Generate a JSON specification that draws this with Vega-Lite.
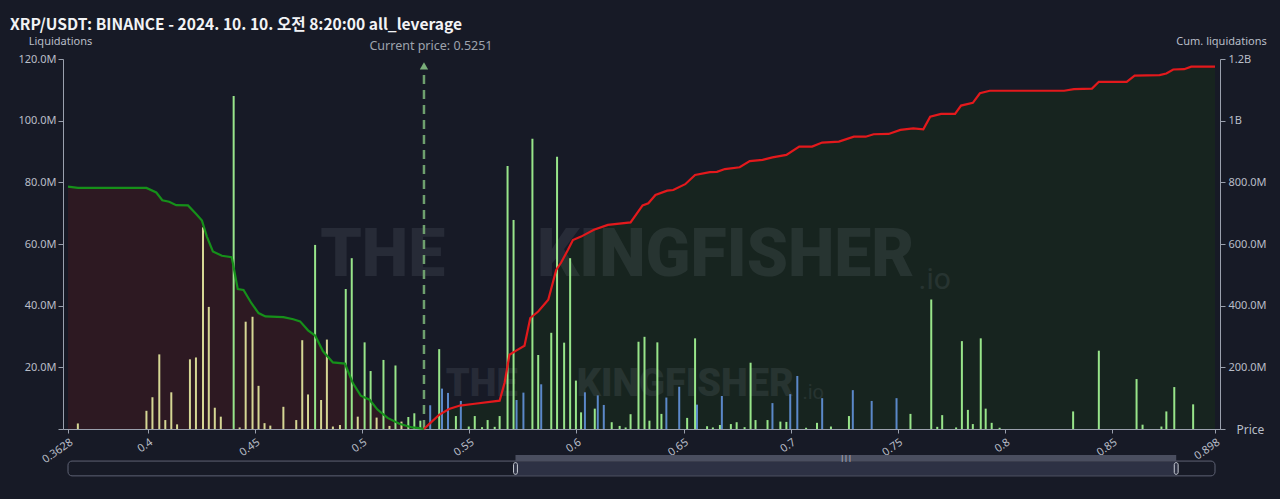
{
  "$schema": "https://vega.github.io/schema/vega-lite/v6.json",
  "width": 1157,
  "height": 370,
  "autosize": {"type": "none"},
  "padding": {"left": 63, "top": 59, "right": 60, "bottom": 70},
  "background": "#171a26",
  "config": {
    "view": {"stroke": null},
    "font": "Noto Sans",
    "axis": {"grid": false, "domainColor": "#9aa0ad", "tickColor": "#9aa0ad", "labelColor": "#b9bec8", "titleColor": "#b9bec8", "labelFontSize": 11, "titleFontSize": 11, "titleFontWeight": "normal", "labelFont": "Noto Sans", "titleFont": "Noto Sans"}
  },
  "title": {
    "text": "XRP/USDT: BINANCE - 2024. 10. 10. 오전 8:20:00 all_leverage",
    "anchor": "start",
    "frame": "group",
    "dx": -53,
    "dy": 13,
    "font": "Noto Sans CJK KR",
    "fontSize": 15.6,
    "fontWeight": "bold",
    "color": "#f2f3f5",
    "offset": 14
  },
  "datasets": {
    "one": [{}],
    "bars": [
      {"p": 0.3674, "v": 1.8, "t": "Y"}, {"p": 0.3994, "v": 5.9, "t": "Y"}, {"p": 0.4022, "v": 10.3, "t": "Y"}, {"p": 0.4054, "v": 24.2, "t": "Y"},
      {"p": 0.4082, "v": 2.9, "t": "Y"}, {"p": 0.4110, "v": 11.9, "t": "Y"}, {"p": 0.4137, "v": 1.5, "t": "Y"}, {"p": 0.4197, "v": 22.6, "t": "Y"},
      {"p": 0.4225, "v": 23.2, "t": "Y"}, {"p": 0.4258, "v": 65.4, "t": "Y"}, {"p": 0.4285, "v": 39.6, "t": "Y"}, {"p": 0.4313, "v": 6.9, "t": "Y"},
      {"p": 0.4341, "v": 4.0, "t": "Y"}, {"p": 0.4401, "v": 108, "t": "G"}, {"p": 0.4429, "v": 0.5, "t": "Y"}, {"p": 0.4457, "v": 34.8, "t": "Y"},
      {"p": 0.4489, "v": 36.4, "t": "Y"}, {"p": 0.4517, "v": 14.0, "t": "Y"}, {"p": 0.4545, "v": 1.9, "t": "Y"}, {"p": 0.4572, "v": 1.1, "t": "Y"},
      {"p": 0.4633, "v": 7.2, "t": "Y"}, {"p": 0.4693, "v": 2.9, "t": "Y"}, {"p": 0.4721, "v": 28.8, "t": "Y"}, {"p": 0.4748, "v": 11.2, "t": "Y"},
      {"p": 0.4781, "v": 59.7, "t": "G"}, {"p": 0.4809, "v": 9.4, "t": "Y"}, {"p": 0.4836, "v": 29.0, "t": "Y"}, {"p": 0.4864, "v": 0.8, "t": "Y"},
      {"p": 0.4897, "v": 1.3, "t": "Y"}, {"p": 0.4924, "v": 45.4, "t": "G"}, {"p": 0.4952, "v": 55.4, "t": "G"}, {"p": 0.4980, "v": 4.0, "t": "Y"},
      {"p": 0.5012, "v": 28.1, "t": "G"}, {"p": 0.5040, "v": 18.8, "t": "G"}, {"p": 0.5068, "v": 3.7, "t": "Y"}, {"p": 0.5100, "v": 22.4, "t": "G"},
      {"p": 0.5128, "v": 1.0, "t": "Y"}, {"p": 0.5156, "v": 20.6, "t": "G"}, {"p": 0.5184, "v": 2.4, "t": "Y"}, {"p": 0.5216, "v": 3.9, "t": "G"},
      {"p": 0.5244, "v": 5.1, "t": "G"}, {"p": 0.5272, "v": 2.7, "t": "G"},
      {"p": 0.5318, "v": 7.7, "t": "B"}, {"p": 0.5360, "v": 25.9, "t": "G"}, {"p": 0.5373, "v": 13.1, "t": "B"}, {"p": 0.5401, "v": 11.7, "t": "B"},
      {"p": 0.5438, "v": 4.2, "t": "G"}, {"p": 0.5461, "v": 9.1, "t": "B"}, {"p": 0.5498, "v": 0.8, "t": "G"}, {"p": 0.5526, "v": 4.2, "t": "G"},
      {"p": 0.5560, "v": 0.6, "t": "G"}, {"p": 0.5586, "v": 2.9, "t": "G"}, {"p": 0.5619, "v": 0.7, "t": "G"}, {"p": 0.5642, "v": 4.2, "t": "G"},
      {"p": 0.5679, "v": 85.3, "t": "G"}, {"p": 0.5707, "v": 67.8, "t": "G"}, {"p": 0.5721, "v": 9.4, "t": "B"}, {"p": 0.5753, "v": 11.8, "t": "B"},
      {"p": 0.5795, "v": 94.1, "t": "G"}, {"p": 0.5822, "v": 24.0, "t": "G"}, {"p": 0.5836, "v": 14.5, "t": "B"}, {"p": 0.5883, "v": 31.2, "t": "G"},
      {"p": 0.5910, "v": 88.3, "t": "G"}, {"p": 0.5943, "v": 28.0, "t": "G"}, {"p": 0.5971, "v": 55.4, "t": "G"}, {"p": 0.5998, "v": 15.7, "t": "G"},
      {"p": 0.6022, "v": 5.4, "t": "G"}, {"p": 0.6040, "v": 11.9, "t": "B"}, {"p": 0.6086, "v": 6.6, "t": "G"}, {"p": 0.6100, "v": 10.9, "t": "B"},
      {"p": 0.6128, "v": 7.8, "t": "B"}, {"p": 0.6165, "v": 2.2, "t": "G"}, {"p": 0.6202, "v": 1.0, "t": "G"}, {"p": 0.6230, "v": 0.5, "t": "G"},
      {"p": 0.6253, "v": 4.8, "t": "G"}, {"p": 0.6290, "v": 28.3, "t": "G"}, {"p": 0.6318, "v": 29.9, "t": "G"}, {"p": 0.6341, "v": 2.7, "t": "G"},
      {"p": 0.6378, "v": 28.1, "t": "G"}, {"p": 0.6397, "v": 4.9, "t": "G"}, {"p": 0.6420, "v": 10.2, "t": "B"}, {"p": 0.6480, "v": 13.7, "t": "B"},
      {"p": 0.6517, "v": 3.6, "t": "G"}, {"p": 0.6554, "v": 29.4, "t": "G"}, {"p": 0.6563, "v": 7.9, "t": "B"}, {"p": 0.6610, "v": 0.9, "t": "G"},
      {"p": 0.6637, "v": 0.5, "t": "G"}, {"p": 0.6670, "v": 1.3, "t": "G"}, {"p": 0.6679, "v": 10.7, "t": "B"}, {"p": 0.6721, "v": 1.6, "t": "G"},
      {"p": 0.6748, "v": 2.2, "t": "G"}, {"p": 0.6785, "v": 0.6, "t": "G"}, {"p": 0.6813, "v": 21.5, "t": "G"}, {"p": 0.6836, "v": 2.9, "t": "G"},
      {"p": 0.6892, "v": 2.9, "t": "G"}, {"p": 0.6915, "v": 8.4, "t": "B"}, {"p": 0.6952, "v": 2.4, "t": "G"}, {"p": 0.6980, "v": 2.3, "t": "G"},
      {"p": 0.6998, "v": 11.3, "t": "B"}, {"p": 0.7031, "v": 17.2, "t": "B"}, {"p": 0.7072, "v": 0.4, "t": "G"}, {"p": 0.7123, "v": 2.0, "t": "G"},
      {"p": 0.7147, "v": 10.0, "t": "B"}, {"p": 0.7188, "v": 0.8, "t": "G"}, {"p": 0.7272, "v": 4.2, "t": "G"}, {"p": 0.7290, "v": 12.6, "t": "B"},
      {"p": 0.7378, "v": 9.1, "t": "B"}, {"p": 0.7494, "v": 10.0, "t": "B"}, {"p": 0.7559, "v": 4.9, "t": "G"}, {"p": 0.7656, "v": 42.0, "t": "G"},
      {"p": 0.7684, "v": 0.7, "t": "G"}, {"p": 0.7707, "v": 4.5, "t": "G"}, {"p": 0.7772, "v": 0.5, "t": "G"}, {"p": 0.7799, "v": 28.5, "t": "G"},
      {"p": 0.7827, "v": 6.2, "t": "G"}, {"p": 0.7850, "v": 1.6, "t": "G"}, {"p": 0.7887, "v": 29.4, "t": "G"}, {"p": 0.7910, "v": 6.6, "t": "G"},
      {"p": 0.7938, "v": 2.0, "t": "G"}, {"p": 0.7975, "v": 0.4, "t": "G"}, {"p": 0.8318, "v": 5.7, "t": "G"}, {"p": 0.8438, "v": 25.4, "t": "G"},
      {"p": 0.8614, "v": 16.2, "t": "G"}, {"p": 0.8642, "v": 1.4, "t": "G"}, {"p": 0.8730, "v": 0.8, "t": "G"}, {"p": 0.8753, "v": 5.7, "t": "G"},
      {"p": 0.8790, "v": 13.6, "t": "G"}, {"p": 0.8878, "v": 8.0, "t": "G"}
    ],
    "cum": [
      {"p": 0.3628, "c": 786, "s": "short"}, {"p": 0.3674, "c": 782, "s": "short"}, {"p": 0.3994, "c": 782, "s": "short"}, {"p": 0.4040, "c": 767, "s": "short"},
      {"p": 0.4068, "c": 742, "s": "short"}, {"p": 0.4100, "c": 737, "s": "short"}, {"p": 0.4133, "c": 726, "s": "short"}, {"p": 0.4188, "c": 725, "s": "short"},
      {"p": 0.4225, "c": 698, "s": "short"}, {"p": 0.4253, "c": 676, "s": "short"}, {"p": 0.4276, "c": 624, "s": "short"}, {"p": 0.4304, "c": 576, "s": "short"},
      {"p": 0.4346, "c": 562, "s": "short"}, {"p": 0.4392, "c": 557, "s": "short"}, {"p": 0.4420, "c": 454, "s": "short"}, {"p": 0.4447, "c": 451, "s": "short"},
      {"p": 0.4484, "c": 408, "s": "short"}, {"p": 0.4517, "c": 376, "s": "short"}, {"p": 0.4549, "c": 365, "s": "short"}, {"p": 0.4633, "c": 363, "s": "short"},
      {"p": 0.4679, "c": 356, "s": "short"}, {"p": 0.4711, "c": 349, "s": "short"}, {"p": 0.4748, "c": 320, "s": "short"}, {"p": 0.4781, "c": 303, "s": "short"},
      {"p": 0.4818, "c": 252, "s": "short"}, {"p": 0.4864, "c": 216, "s": "short"}, {"p": 0.4920, "c": 212, "s": "short"}, {"p": 0.4957, "c": 149, "s": "short"},
      {"p": 0.4994, "c": 108, "s": "short"}, {"p": 0.5035, "c": 95, "s": "short"}, {"p": 0.5072, "c": 63, "s": "short"}, {"p": 0.5119, "c": 36, "s": "short"},
      {"p": 0.5174, "c": 17, "s": "short"}, {"p": 0.5234, "c": 5, "s": "short"}, {"p": 0.5267, "c": 3, "s": "short"}, {"p": 0.5289, "c": 0, "s": "short"},
      {"p": 0.5289, "c": 0, "s": "long"}, {"p": 0.5318, "c": 19, "s": "long"}, {"p": 0.5360, "c": 46, "s": "long"}, {"p": 0.5406, "c": 65, "s": "long"},
      {"p": 0.5457, "c": 76, "s": "long"}, {"p": 0.5526, "c": 82, "s": "long"}, {"p": 0.5642, "c": 92, "s": "long"}, {"p": 0.5665, "c": 149, "s": "long"},
      {"p": 0.5688, "c": 241, "s": "long"}, {"p": 0.5721, "c": 255, "s": "long"}, {"p": 0.5758, "c": 270, "s": "long"}, {"p": 0.5785, "c": 360, "s": "long"},
      {"p": 0.5822, "c": 381, "s": "long"}, {"p": 0.5869, "c": 419, "s": "long"}, {"p": 0.5906, "c": 516, "s": "long"}, {"p": 0.5929, "c": 540, "s": "long"},
      {"p": 0.5961, "c": 581, "s": "long"}, {"p": 0.5984, "c": 613, "s": "long"}, {"p": 0.6022, "c": 624, "s": "long"}, {"p": 0.6082, "c": 646, "s": "long"},
      {"p": 0.6147, "c": 662, "s": "long"}, {"p": 0.6253, "c": 670, "s": "long"}, {"p": 0.6309, "c": 725, "s": "long"}, {"p": 0.6336, "c": 732, "s": "long"},
      {"p": 0.6369, "c": 759, "s": "long"}, {"p": 0.6424, "c": 773, "s": "long"}, {"p": 0.6452, "c": 775, "s": "long"}, {"p": 0.6508, "c": 794, "s": "long"},
      {"p": 0.6554, "c": 824, "s": "long"}, {"p": 0.6623, "c": 833, "s": "long"}, {"p": 0.6656, "c": 834, "s": "long"}, {"p": 0.6693, "c": 843, "s": "long"},
      {"p": 0.6762, "c": 849, "s": "long"}, {"p": 0.6809, "c": 869, "s": "long"}, {"p": 0.6869, "c": 873, "s": "long"}, {"p": 0.6915, "c": 881, "s": "long"},
      {"p": 0.6980, "c": 889, "s": "long"}, {"p": 0.7040, "c": 916, "s": "long"}, {"p": 0.7100, "c": 916, "s": "long"}, {"p": 0.7147, "c": 929, "s": "long"},
      {"p": 0.7225, "c": 932, "s": "long"}, {"p": 0.7295, "c": 948, "s": "long"}, {"p": 0.7350, "c": 948, "s": "long"}, {"p": 0.7387, "c": 956, "s": "long"},
      {"p": 0.7457, "c": 957, "s": "long"}, {"p": 0.7512, "c": 970, "s": "long"}, {"p": 0.7572, "c": 975, "s": "long"}, {"p": 0.7619, "c": 972, "s": "long"},
      {"p": 0.7651, "c": 1013, "s": "long"}, {"p": 0.7702, "c": 1022, "s": "long"}, {"p": 0.7767, "c": 1022, "s": "long"}, {"p": 0.7795, "c": 1049, "s": "long"},
      {"p": 0.7850, "c": 1058, "s": "long"}, {"p": 0.7883, "c": 1089, "s": "long"}, {"p": 0.7929, "c": 1097, "s": "long"}, {"p": 0.8276, "c": 1097, "s": "long"},
      {"p": 0.8322, "c": 1102, "s": "long"}, {"p": 0.8406, "c": 1104, "s": "long"}, {"p": 0.8438, "c": 1126, "s": "long"}, {"p": 0.8568, "c": 1126, "s": "long"},
      {"p": 0.8605, "c": 1146, "s": "long"}, {"p": 0.8721, "c": 1148, "s": "long"}, {"p": 0.8753, "c": 1153, "s": "long"}, {"p": 0.8785, "c": 1166, "s": "long"},
      {"p": 0.8836, "c": 1167, "s": "long"}, {"p": 0.8869, "c": 1175, "s": "long"}, {"p": 0.8980, "c": 1175, "s": "long"}
    ]
  },
  "layer": [
    {
      "data": {"name": "cum"},
      "layer": [
        {"transform": [{"filter": "datum.s == 'short'"}], "mark": {"type": "area", "color": "#2d1922", "opacity": 1}},
        {"transform": [{"filter": "datum.s == 'long'"}], "mark": {"type": "area", "color": "#17241f", "opacity": 1}}
      ],
      "encoding": {
        "x": {"field": "p", "type": "quantitative", "scale": {"domain": [0.3628, 0.898], "nice": false, "zero": false},
          "axis": {"values": [0.3628, 0.4, 0.45, 0.5, 0.55, 0.6, 0.65, 0.7, 0.75, 0.8, 0.85, 0.898], "labelExpr": "datum.value + ''", "labelAngle": -35, "labelAlign": "right", "labelBaseline": "top", "tickSize": 4, "labelPadding": 3, "labelFontSize": 11, "title": "Price", "titleAngle": 0, "titleX": 1173, "titleY": 0, "titleAlign": "left", "titleBaseline": "middle", "titleFontSize": 12, "labelFlush": false, "labelOverlap": false}},
        "y": {"field": "c", "type": "quantitative", "scale": {"domain": [0, 1200], "nice": false},
          "axis": {"orient": "right", "values": [0, 200, 400, 600, 800, 1000, 1200], "labelExpr": "datum.value == 0 ? '' : (datum.value >= 1000 ? (datum.value / 1000) + 'B' : format(datum.value, '.1f') + 'M')", "tickSize": 5, "labelPadding": 3, "title": "Cum. liquidations", "titleAngle": 0, "titleX": 1, "titleY": -15, "titleAlign": "center", "titleBaseline": "alphabetic"}}
      }
    },
    {
      "layer": [
        {"data": {"name": "one"}, "mark": {"type": "text", "text": "THE", "font": "Roboto", "fontWeight": 900, "fontSize": 66, "color": "#9aa6b2", "opacity": 0.12, "baseline": "middle"},
         "encoding": {"x": {"datum": 0.5096, "type": "quantitative"}, "y": {"datum": 56, "type": "quantitative"}}},
        {"data": {"name": "one"}, "mark": {"type": "text", "text": "KINGFISHER", "font": "Roboto", "fontWeight": 900, "fontSize": 66, "color": "#9aa6b2", "opacity": 0.12, "baseline": "middle"},
         "encoding": {"x": {"datum": 0.6697, "type": "quantitative"}, "y": {"datum": 56, "type": "quantitative"}}},
        {"data": {"name": "one"}, "mark": {"type": "text", "text": ".io", "font": "Roboto", "fontSize": 30, "color": "#9aa6b2", "opacity": 0.12, "baseline": "middle"},
         "encoding": {"x": {"datum": 0.7672, "type": "quantitative"}, "y": {"datum": 48.3, "type": "quantitative"}}},
        {"data": {"name": "one"}, "mark": {"type": "text", "text": "THE", "font": "Roboto", "fontWeight": 900, "fontSize": 38, "color": "#9aa6b2", "opacity": 0.12, "baseline": "middle"},
         "encoding": {"x": {"datum": 0.5559, "type": "quantitative"}, "y": {"datum": 14.3, "type": "quantitative"}}},
        {"data": {"name": "one"}, "mark": {"type": "text", "text": "KINGFISHER", "font": "Roboto", "fontWeight": 900, "fontSize": 38, "color": "#9aa6b2", "opacity": 0.12, "baseline": "middle"},
         "encoding": {"x": {"datum": 0.6508, "type": "quantitative"}, "y": {"datum": 14.3, "type": "quantitative"}}},
        {"data": {"name": "one"}, "mark": {"type": "text", "text": ".io", "font": "Roboto", "fontSize": 20, "color": "#9aa6b2", "opacity": 0.12, "baseline": "middle"},
         "encoding": {"x": {"datum": 0.7105, "type": "quantitative"}, "y": {"datum": 11.7, "type": "quantitative"}}},
        {
          "data": {"name": "bars"},
          "mark": {"type": "bar", "size": 2},
          "encoding": {
            "x": {"field": "p", "type": "quantitative", "scale": {"domain": [0.3628, 0.898], "nice": false, "zero": false}},
            "y": {"field": "v", "type": "quantitative"},
            "color": {"field": "t", "type": "nominal", "scale": {"domain": ["Y", "G", "B"], "range": ["#d6d794", "#98e58a", "#5b88c9"]}, "legend": null}
          }
        },
        {"data": {"name": "one"}, "mark": {"type": "rect", "fill": "#171a26", "stroke": "#5e6274", "strokeWidth": 1, "cornerRadius": 4},
         "encoding": {"x": {"datum": 0.3628, "type": "quantitative"}, "x2": {"datum": 0.898}, "y": {"datum": -10.4, "type": "quantitative"}, "y2": {"datum": -15.2}}},
        {"data": {"name": "one"}, "mark": {"type": "rect", "fill": "#2d3144"},
         "encoding": {"x": {"datum": 0.5716, "type": "quantitative"}, "x2": {"datum": 0.8799}, "y": {"datum": -10.6, "type": "quantitative"}, "y2": {"datum": -15.0}}},
        {"data": {"name": "one"}, "mark": {"type": "rect", "fill": "#4a4e5f"},
         "encoding": {"x": {"datum": 0.5716, "type": "quantitative"}, "x2": {"datum": 0.8799}, "y": {"datum": -8.4, "type": "quantitative"}, "y2": {"datum": -10.4}}},
        {"data": {"name": "one"}, "mark": {"type": "rect", "fill": "#2d3144", "stroke": "#c8ccd4", "strokeWidth": 1, "cornerRadius": 2},
         "encoding": {"x": {"datum": 0.5707, "type": "quantitative"}, "x2": {"datum": 0.5725}, "y": {"datum": -10.9, "type": "quantitative"}, "y2": {"datum": -14.7}}},
        {"data": {"name": "one"}, "mark": {"type": "rect", "fill": "#2d3144", "stroke": "#c8ccd4", "strokeWidth": 1, "cornerRadius": 2},
         "encoding": {"x": {"datum": 0.8790, "type": "quantitative"}, "x2": {"datum": 0.8808}, "y": {"datum": -10.9, "type": "quantitative"}, "y2": {"datum": -14.7}}},
        {"data": {"name": "one"}, "mark": {"type": "text", "text": "|||", "fontSize": 7, "color": "#d8dae0", "baseline": "middle"},
         "encoding": {"x": {"datum": 0.7258, "type": "quantitative"}, "y": {"datum": -9.4, "type": "quantitative"}}},
        {"data": {"name": "one"}, "mark": {"type": "rule", "color": "#6e9f6e", "strokeWidth": 2.5, "strokeDash": [9, 6]},
         "encoding": {"x": {"datum": 0.5289, "type": "quantitative"}, "y": {"datum": 0, "type": "quantitative"}, "y2": {"datum": 117.3}}},
        {"data": {"name": "one"}, "mark": {"type": "point", "shape": "triangle-up", "size": 70, "filled": true, "color": "#7aae7a", "opacity": 1},
         "encoding": {"x": {"datum": 0.5289, "type": "quantitative"}, "y": {"datum": 117.8, "type": "quantitative"}}},
        {"data": {"name": "one"}, "mark": {"type": "text", "text": "Current price: 0.5251", "fontSize": 12.5, "color": "#9ea3ad", "dx": 7, "dy": -13, "baseline": "middle"},
         "encoding": {"x": {"datum": 0.5289, "type": "quantitative"}, "y": {"datum": 120, "type": "quantitative"}}}
      ],
      "encoding": {
        "y": {"type": "quantitative", "scale": {"domain": [0, 120], "nice": false},
          "axis": {"orient": "left", "values": [0, 20, 40, 60, 80, 100, 120], "labelExpr": "datum.value == 0 ? '' : format(datum.value, '.1f') + 'M'", "tickSize": 5, "labelPadding": 2, "title": "Liquidations", "titleAngle": 0, "titleX": -3, "titleY": -15, "titleAlign": "center", "titleBaseline": "alphabetic"}}
      }
    },
    {
      "data": {"name": "cum"},
      "layer": [
        {"transform": [{"filter": "datum.s == 'short'"}], "mark": {"type": "line", "color": "#16901a", "strokeWidth": 2.2}},
        {"transform": [{"filter": "datum.s == 'long'"}], "mark": {"type": "line", "color": "#e3191c", "strokeWidth": 2.2}},
        {"data": {"name": "one"}, "mark": {"type": "point", "filled": true, "size": 90, "color": "#86b086", "opacity": 0.95},
         "encoding": {"x": {"datum": 0.5289, "type": "quantitative"}, "y": {"datum": 0, "type": "quantitative"}}}
      ],
      "encoding": {
        "x": {"field": "p", "type": "quantitative", "scale": {"domain": [0.3628, 0.898], "nice": false, "zero": false}},
        "y": {"field": "c", "type": "quantitative", "scale": {"domain": [0, 1200], "nice": false}, "axis": null}
      }
    }
  ],
  "resolve": {"scale": {"y": "independent"}}
}
